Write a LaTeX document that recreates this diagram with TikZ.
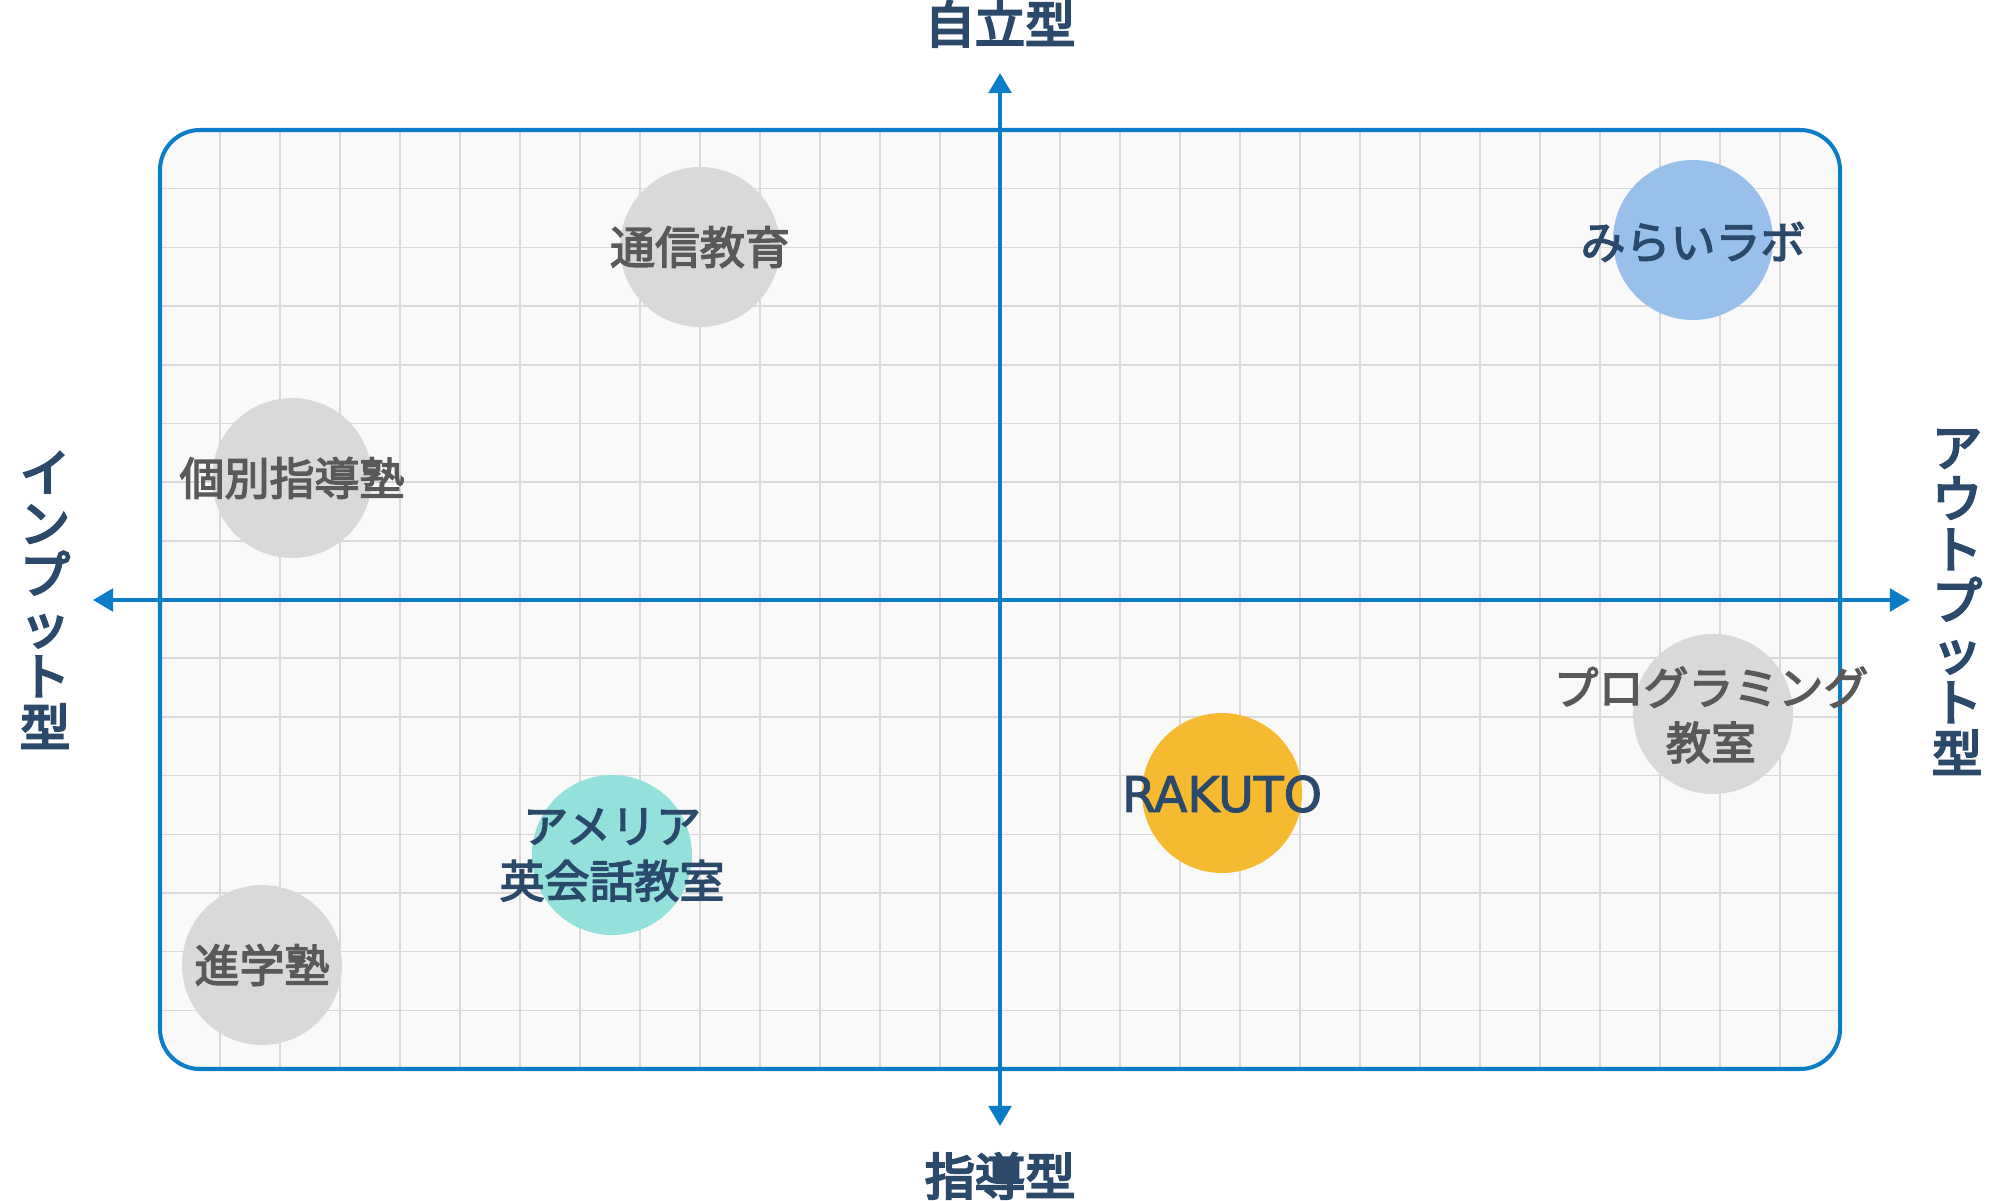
\documentclass[tikz,border=0pt]{standalone}
\usepackage{fontspec}
\newfontfamily\jpm[FakeBold=3]{Noto Sans CJK JP}
\newfontfamily\jpa[FakeBold=4.5]{Noto Sans CJK JP}
\newfontfamily\latn[FakeBold=2]{DejaVu Sans}
\usetikzlibrary{arrows.meta}
\definecolor{axisblue}{HTML}{0A7CC8}
\definecolor{gridgray}{HTML}{D9D9D9}
\definecolor{bgfill}{HTML}{F9F9F9}
\definecolor{circgray}{HTML}{D9D9D9}
\definecolor{txtgray}{HTML}{595959}
\definecolor{navy}{HTML}{2B4A6B}
\definecolor{miraiblue}{HTML}{98C0EA}
\definecolor{rakutoorange}{HTML}{F5BA30}
\definecolor{ameriateal}{HTML}{94E0DA}
\tikzset{
  gridline/.style={draw=gridgray, line width=0.85pt},
  frame/.style={draw=axisblue, line width=2.3pt, rounded corners=0.8cm},
  axisline/.style={draw=axisblue, line width=2pt, {Triangle[width=13pt,length=11.5pt]}-{Triangle[width=13pt,length=11.5pt]}},
  circ/.style={circle, minimum size=3.2cm, inner sep=0pt, draw=none},
  graylbl/.style={text=txtgray, align=center, font=\fontsize{25.6pt}{31.3pt}\selectfont\jpm},
  navylbl/.style={text=navy, align=center, font=\fontsize{25.6pt}{31.3pt}\selectfont\jpm},
  latnlbl/.style={text=navy, align=center, font=\fontsize{27.8pt}{31.3pt}\selectfont\latn},
  axislbl/.style={text=navy, align=center, inner sep=0pt, font=\fontsize{28.5pt}{29pt}\selectfont\jpa},
}
\begin{document}
\begin{tikzpicture}[x=0.02cm, y=-0.02cm]
\useasboundingbox (0,0) rectangle (2000,1200);
\begin{scope}
  \clip[rounded corners=0.8cm] (160,130) rectangle (1840,1069);
  \fill[bgfill] (160,130) rectangle (1840,1069);
  \foreach \i in {1,...,27} \draw[gridline] ({160+60*\i},130) -- ({160+60*\i},1069);
  \foreach \j in {1,...,15} \draw[gridline] (160,{130+58.69*\j}) -- (1840,{130+58.69*\j});
\end{scope}
\draw[frame] (160,130) rectangle (1840,1069);

\coordinate (topend) at (1000,73);
\coordinate (botend) at (1000,1126);
\coordinate (leftend) at (93,600);
\coordinate (rightend) at (1910,600);
\draw[axisline] (botend) -- (topend);
\draw[axisline] (leftend) -- (rightend);

\node[axislbl] (ltop) at (1000,24) {自立型};
\node[axislbl] (lbot) at (1000,1176) {指導型};
\node[axislbl] (lleft) at (45,600) {イ\\ン\\プ\\ッ\\ト\\型};
\node[axislbl] (lright) at (1957,602) {ア\\ウ\\ト\\プ\\ッ\\ト\\型};

\node[circ, fill=circgray] (tsushin) at (700,247) {};
\node[graylbl] (tsushinL) at (tsushin) {通信教育};
\node[circ, fill=miraiblue] (mirai) at (1693,240) {};
\node[navylbl] (miraiL) at (1693,242) {みらいラボ};
\node[circ, fill=circgray] (kobetsu) at (292,478) {};
\node[graylbl] (kobetsuL) at (kobetsu) {個別指導塾};
\node[circ, fill=circgray] (prog) at (1713,714) {};
\node[graylbl] (progL) at (1711,715) {プログラミング\\教室};
\node[circ, fill=rakutoorange] (rakuto) at (1222,793) {};
\node[latnlbl] (rakutoL) at (1222,794) {RAKUTO};
\node[circ, fill=ameriateal] (ameria) at (612,855) {};
\node[navylbl] (ameriaL) at (612,855) {アメリア\\英会話教室};
\node[circ, fill=circgray] (shingaku) at (262,965) {};
\node[graylbl] (shingakuL) at (shingaku) {進学塾};
\end{tikzpicture}
\end{document}
